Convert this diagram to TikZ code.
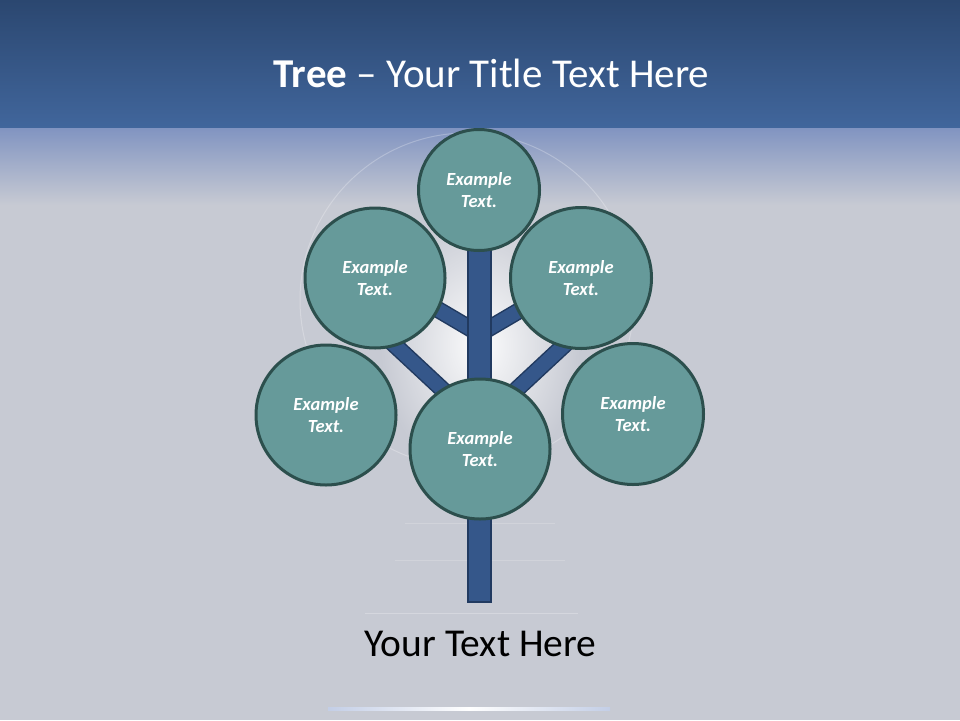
\documentclass[tikz,border=0pt]{standalone}
\usepackage{fontspec}
\setmainfont{Carlito}
\usetikzlibrary{fadings}
\tikzfading[name=glowfade, inner color=transparent!0, outer color=transparent!100]
\definecolor{bandtop}{HTML}{2B4770}
\definecolor{bandbot}{HTML}{41669C}
\definecolor{haze}{HTML}{8194C1}
\definecolor{bggrey}{HTML}{C7CAD3}
\definecolor{leaffill}{HTML}{669A9A}
\definecolor{leafline}{HTML}{2C4F4D}
\definecolor{woodfill}{HTML}{35578A}
\definecolor{woodline}{HTML}{213A60}
\definecolor{glint}{HTML}{C3CEE6}
\tikzset{
  leaf/.style={circle, fill=leaffill, draw=leafline, line width=3pt, inner sep=0pt,
    text=white, align=center, font=\fontsize{18.5}{22}\selectfont\bfseries\itshape},
  branchedge/.style={draw=woodline, line width=17pt},
  branchcore/.style={draw=woodfill, line width=14pt},
  trunkbox/.style={fill=woodfill, draw=woodline, line width=1.6pt},
}
\begin{document}
\begin{tikzpicture}[x=1pt,y=-1pt]
\useasboundingbox (0,0) rectangle (960,720);
% background
\fill[bggrey] (0,0) rectangle (960,720);
\shade[top color=bandtop, bottom color=bandbot] (0,0) rectangle (960,128);
\shade[top color=haze, bottom color=bggrey] (0,128) rectangle (960,205);
\fill[white, path fading=glowfade, opacity=0.95] (480,345) ellipse (100 and 135);
\draw[white, opacity=0.25, line width=1pt] (467,300) circle (167);
\draw[white, opacity=0.25, line width=1pt] (365,613) -- (578,613);
\draw[white, opacity=0.18, line width=1pt] (405,523) -- (555,523);
\draw[white, opacity=0.18, line width=1pt] (395,560) -- (565,560);
\shade[left color=glint, right color=glint, middle color=white] (328,707.5) rectangle (610,710.5);
% title
\node[text=white, font=\fontsize{41}{48}\selectfont, anchor=base] (title) at (491.5,87) {\textbf{Tree} – Your Title Text Here};
% branch joints and ends
\coordinate (ju) at (479.5,334);
\coordinate (jl) at (479.5,424);
\coordinate (eul) at (420,299);
\coordinate (eur) at (539,299);
\coordinate (ell) at (385,336);
\coordinate (elr) at (574,336);
\coordinate (ttop) at (468,235);
\coordinate (tbot) at (491,602);
% branches
\foreach \a/\b in {ju/eul, ju/eur, jl/ell, jl/elr} {
  \draw[branchedge] (\a) -- (\b);
  \draw[branchcore] (\a) -- (\b);
}
% trunk
\draw[trunkbox] (ttop) rectangle (tbot);
% leaves
\node[leaf, minimum size=121pt] (top) at (479,190) {Example\\Text.};
\node[leaf, minimum size=140pt] (ul) at (375,278) {Example\\Text.};
\node[leaf, minimum size=141pt] (ur) at (581,278) {Example\\Text.};
\node[leaf, minimum size=140pt] (ll) at (326,415) {Example\\Text.};
\node[leaf, minimum size=141pt] (lr) at (633,414) {Example\\Text.};
\node[leaf, minimum size=140pt] (mid) at (480,449) {Example\\Text.};
% caption
\node[text=black, font=\fontsize{39.5}{46}\selectfont, anchor=base] (caption) at (480.5,656) {Your Text Here};
\end{tikzpicture}
\end{document}
